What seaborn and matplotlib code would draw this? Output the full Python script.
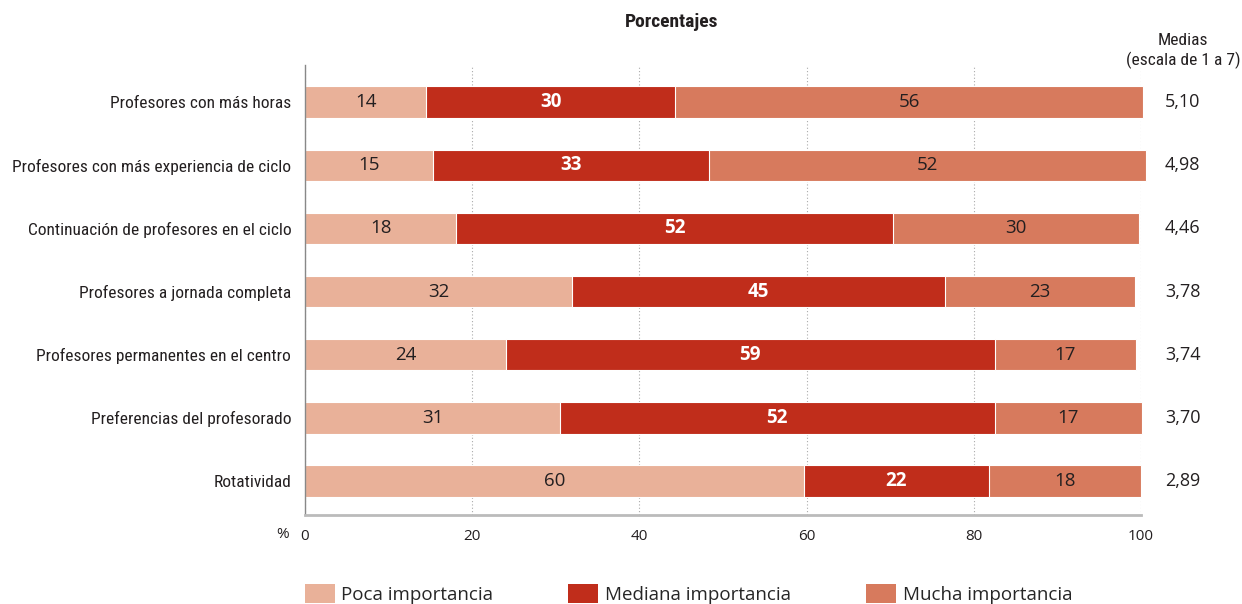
import numpy as np
import pandas as pd
import matplotlib
matplotlib.use("Agg")
import matplotlib.pyplot as plt
import seaborn as sns
from matplotlib.patches import Patch

# -----------------------------
# Data
# -----------------------------
categories = [
    "Profesores con más horas",
    "Profesores con más experiencia de ciclo",
    "Continuación de profesores en el ciclo",
    "Profesores a jornada completa",
    "Profesores permanentes en el centro",
    "Preferencias del profesorado",
    "Rotatividad",
]
poca = [14.5, 15.3, 18.1, 31.9, 24.0, 30.5, 59.7]
mediana = [29.8, 33.0, 52.3, 44.7, 58.5, 52.0, 22.1]
mucha = [55.9, 52.3, 29.4, 22.7, 16.9, 17.6, 18.2]
poca_lbl = [14, 15, 18, 32, 24, 31, 60]
mediana_lbl = [30, 33, 52, 45, 59, 52, 22]
mucha_lbl = [56, 52, 30, 23, 17, 17, 18]
medias = ["5,10", "4,98", "4,46", "3,78", "3,74", "3,70", "2,89"]
series = ["Poca importancia", "Mediana importancia", "Mucha importancia"]
colors = ["#E9B199", "#C02D1B", "#D77A5D"]
TEXT = "#231F20"
COND = ["Roboto Condensed", "DejaVu Sans"]
REG = ["Open Sans", "DejaVu Sans"]

sns.set_theme(style="white")
plt.rcParams["font.family"] = COND

df = pd.DataFrame({"cat": categories, "poca": poca, "mediana": mediana, "mucha": mucha})
df["c1"] = df["poca"]
df["c2"] = df["poca"] + df["mediana"]
df["c3"] = df["c2"] + df["mucha"]

fig = plt.figure(figsize=(12.42, 6.04), dpi=100)
ax = fig.add_axes([0.2456, 0.1474, 0.673, 0.745])

# stacked bars: draw cumulative totals back to front
for col, c in zip(["c3", "c2", "c1"], colors[::-1]):
    sns.barplot(data=df, x=col, y="cat", orient="h", color=c, width=0.5,
                edgecolor="white", linewidth=0.8, ax=ax, saturation=1)
for p in ax.patches:
    p.set_clip_on(False)

ax.set_xlim(0, 100)
ax.set_ylim(6.54, -0.59)
ax.set_xticks([0, 20, 40, 60, 80, 100])
ax.set_xticklabels(["0", "20", "40", "60", "80", "100"], family=REG)
ax.tick_params(axis="x", length=0, pad=10, labelsize=11, colors=TEXT)
ax.tick_params(axis="y", length=0, pad=10, labelsize=12.5, colors=TEXT)
ax.set_xlabel("")
ax.set_ylabel("")
ax.xaxis.grid(True, linestyle=(0, (1, 2)), color="#aaaaaa", linewidth=0.8)
ax.set_axisbelow(True)
for s in ["top", "right"]:
    ax.spines[s].set_visible(False)
ax.spines["left"].set_color("#888888")
ax.spines["left"].set_linewidth(1)
ax.spines["bottom"].set_color("#bbbbbb")
ax.spines["bottom"].set_linewidth(2)

# segment labels and means
for i in range(len(categories)):
    lefts = [0, poca[i], poca[i] + mediana[i]]
    widths = [poca[i], mediana[i], mucha[i]]
    labels = [poca_lbl[i], mediana_lbl[i], mucha_lbl[i]]
    for j in range(3):
        bold = j == 1
        ax.text(lefts[j] + widths[j] / 2, i, str(labels[j]), ha="center", va="center",
                fontsize=13.5, color="white" if bold else TEXT,
                fontweight="bold" if bold else "normal", family=REG)
    ax.text(105.0, i, medias[i], ha="center", va="center", fontsize=13,
            color=TEXT, family=REG, clip_on=False)

fig.text(283 / 1242, 1 - 535 / 604, "%", ha="center", va="center", fontsize=11,
         color=TEXT, family=REG)
fig.text(672 / 1242, 1 - 22 / 604, "Porcentajes", ha="center", va="center",
         fontsize=14, fontweight="bold", color=TEXT, family=COND)
fig.text(1183 / 1242, 1 - 51 / 604, "Medias\n(escala de 1 a 7)", ha="center", va="center",
         fontsize=12.5, color=TEXT, linespacing=1.25, family=COND)

handles = [Patch(facecolor=c, edgecolor="none") for c in colors]
fig.legend(handles, series, loc="lower left", bbox_to_anchor=(288 / 1242, -0.028),
           ncol=3, frameon=False, handlelength=1.6, handleheight=1.2,
           columnspacing=4.0, handletextpad=0.35,
           prop={"family": REG, "size": 13.5})

fig.savefig("out.png", dpi=100)
